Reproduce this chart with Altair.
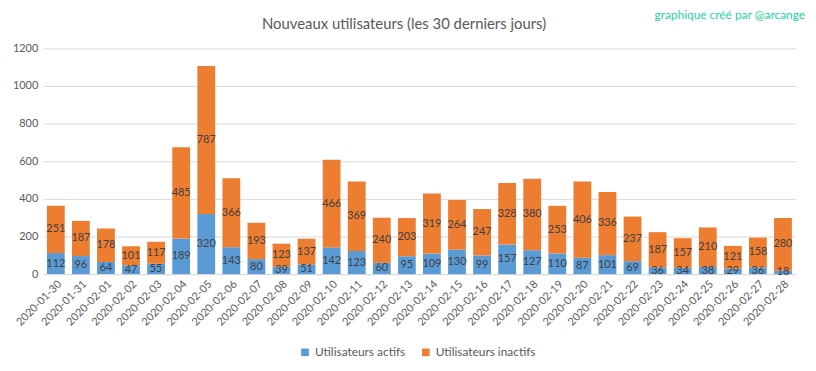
import altair as alt
import pandas as pd

dates = ["2020-01-30", "2020-01-31"] + [f"2020-02-{d:02d}" for d in range(1, 29)]
actifs = [112, 96, 64, 47, 55, 189, 320, 143, 80, 39, 51, 142, 123, 60, 95,
          109, 130, 99, 157, 127, 110, 87, 101, 69, 36, 34, 38, 29, 36, 18]
inactifs = [251, 187, 178, 101, 117, 485, 787, 366, 193, 123, 137, 466, 369, 240, 203,
            319, 264, 247, 328, 380, 253, 406, 336, 237, 187, 157, 210, 121, 158, 280]
series = ["Utilisateurs actifs", "Utilisateurs inactifs"]
colors = ["#5B9BD5", "#ED7D31"]
yticks = [0, 200, 400, 600, 800, 1000, 1200]
title_text = "Nouveaux utilisateurs (les 30 derniers jours)"
credit_text = "graphique créé par @arcange"

rows = []
for d, a, i in zip(dates, actifs, inactifs):
    rows.append({"date": d, "serie": series[0], "value": a, "ord": 0})
    rows.append({"date": d, "serie": series[1], "value": i, "ord": 1})
df = pd.DataFrame(rows)

FONT = "Lato"
W, H = 759, 228

base = alt.Chart(df).transform_stack(
    stack="value", groupby=["date"], as_=["y0", "y1"],
    sort=[alt.SortField("ord", order="ascending")]
).transform_calculate(mid="(datum.y0 + datum.y1) / 2")

xaxis = alt.Axis(labelAngle=-45, labelFontSize=11, labelColor="#595959",
                 labelFont=FONT, ticks=False, domainColor="#D9D9D9", labelPadding=4)
yaxis = alt.Axis(values=yticks, format="d", labelFontSize=11, labelOverlap=False,
                 labelColor="#595959", labelFont=FONT, domain=False, ticks=False,
                 gridColor="#D9D9D9", labelPadding=6)
xscale = alt.Scale(paddingInner=0.29, paddingOuter=0.13)
yscale = alt.Scale(domain=[0, 1200])

bars = base.mark_bar().encode(
    x=alt.X("date:N", sort=dates, title=None, scale=xscale, axis=xaxis),
    y=alt.Y("y0:Q", scale=yscale, title=None, axis=yaxis),
    y2="y1:Q",
    color=alt.Color("serie:N", scale=alt.Scale(domain=series, range=colors), title=None,
                    legend=alt.Legend(orient="none", legendX=258, legendY=301,
                                      direction="horizontal", symbolType="square",
                                      symbolSize=60, labelFontSize=12, labelColor="#595959",
                                      labelFont=FONT, columnPadding=14, symbolStrokeWidth=0)),
)

labels = base.mark_text(fontSize=11, color="#404040", font=FONT).encode(
    x=alt.X("date:N", sort=dates, title=None, scale=xscale, axis=xaxis),
    y=alt.Y("mid:Q", scale=yscale, title=None, axis=yaxis),
    text="value:Q",
)

credit = alt.Chart(pd.DataFrame({"t": [credit_text]})).mark_text(
    align="right", fontSize=12, color="#1DD3A0", font=FONT, baseline="middle"
).encode(x=alt.value(W + 10), y=alt.value(-34), text="t:N")

title = alt.Chart(pd.DataFrame({"t": [title_text]})).mark_text(
    align="center", fontSize=15, color="#595959", font=FONT, baseline="alphabetic"
).encode(x=alt.value(364), y=alt.value(-20), text="t:N")

chart = alt.layer(bars, labels, credit, title).properties(
    width=W, height=H,
    padding={"left": 36, "top": 39, "right": 13, "bottom": 90},
    autosize=alt.AutoSizeParams(type="none"),
).configure_view(stroke=None)

chart.save("out.html", embed_options={"renderer": "svg", "actions": False})
